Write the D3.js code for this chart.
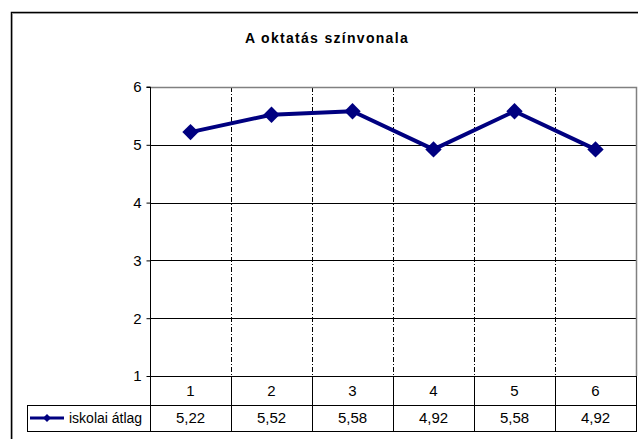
<!DOCTYPE html>
<html><head><meta charset="utf-8">
<script src="https://cdn.jsdelivr.net/npm/d3@7"></script>
<style>body{margin:0;background:#fff}svg{display:block;font-family:Arial,"Liberation Sans",sans-serif}</style>
</head><body><svg id="c" width="638" height="439"></svg>
<script>
const title = "A oktatás színvonala";
const categories = ["1","2","3","4","5","6"];
const seriesName = "iskolai átlag";
const values = [5.22, 5.52, 5.58, 4.92, 5.58, 4.92];
const valueLabels = ["5,22","5,52","5,58","4,92","5,58","4,92"];
const yTicks = [1,2,3,4,5,6];

const svg = d3.select("#c");
const L = 150, R = 636, T = 87, B = 376;
const x = d3.scaleBand().domain(categories).range([L, R]);
const y = d3.scaleLinear().domain([1, 6]).range([B, T]);
const FS = 15;

// outer frame
svg.append("path").attr("d", "M11.5,439 V12.5 H638").attr("fill","none").attr("stroke","#000").attr("stroke-width",1.5);
svg.append("path").attr("d", "M12.5,439 V13.5 H638").attr("fill","none").attr("stroke","#999").attr("stroke-width",1);

svg.append("text").attr("x", 327).attr("y", 43).attr("text-anchor","middle")
  .attr("font-size", 14).attr("font-weight","bold").attr("letter-spacing","1.3px").text(title);

// horizontal gridlines
svg.append("g").selectAll("line").data(yTicks.filter(d => d > 1 && d < 6)).join("line")
  .attr("x1", L).attr("x2", R).attr("y1", d => Math.round(y(d))+0.5).attr("y2", d => Math.round(y(d))+0.5)
  .attr("stroke","#000").attr("stroke-width",1);

// vertical dash-dot lines
svg.append("g").selectAll("line").data(categories.slice(1)).join("line")
  .attr("x1", d => Math.round(x(d))+0.5).attr("x2", d => Math.round(x(d))+0.5)
  .attr("y1", T).attr("y2", B)
  .attr("stroke","#000").attr("stroke-width",1).attr("stroke-dasharray","5,2,1,2");

// plot border top/right grey
svg.append("path").attr("d", `M${L},${T+0.5} H${R+0.5} V${B}`).attr("fill","none").attr("stroke","#808080").attr("stroke-width",1.5);

// y axis
const yAxis = d3.axisLeft(y).tickValues(yTicks).tickSize(4).tickPadding(5).tickFormat(d3.format("d"));
const ga = svg.append("g").attr("transform", `translate(${L+0.5},0)`).call(yAxis);
ga.select(".domain").attr("stroke","#000").attr("d", `M-4,${T}H0V${B}`);
ga.selectAll("text").attr("font-size", FS).attr("font-family","Arial,'Liberation Sans',sans-serif").attr("fill","#000");
ga.selectAll(".tick line").attr("stroke","#000");

// table
const rowH1 = 376, rowH2 = 405, rowEnd = 431;
const tb = svg.append("g").attr("stroke","#000").attr("stroke-width",1).attr("fill","none");
tb.append("line").attr("x1", L).attr("x2", R).attr("y1", rowH1+0.5).attr("y2", rowH1+0.5);
tb.append("line").attr("x1", 27).attr("x2", R).attr("y1", rowH2+0.5).attr("y2", rowH2+0.5);
tb.append("line").attr("x1", 27).attr("x2", R).attr("y1", rowEnd+0.5).attr("y2", rowEnd+0.5);
tb.append("line").attr("x1", 27.5).attr("x2", 27.5).attr("y1", rowH2).attr("y2", rowEnd+1);
tb.selectAll("line.v").data(categories).join("line").attr("class","v")
  .attr("x1", d => Math.round(x(d))+0.5).attr("x2", d => Math.round(x(d))+0.5)
  .attr("y1", rowH1).attr("y2", rowEnd+1);
tb.append("line").attr("x1", R+0.5).attr("x2", R+0.5).attr("y1", rowH1).attr("y2", rowEnd+1);

svg.append("g").selectAll("text").data(categories).join("text")
  .attr("x", d => x(d) + x.bandwidth()/2).attr("y", 396).attr("text-anchor","middle")
  .attr("font-size", FS).text(d => d);
svg.append("g").selectAll("text").data(valueLabels).join("text")
  .attr("x", (d,i) => x(categories[i]) + x.bandwidth()/2).attr("y", 423).attr("text-anchor","middle")
  .attr("font-size", FS).text(d => d);

// legend key
svg.append("line").attr("x1", 30).attr("x2", 64).attr("y1", 418).attr("y2", 418).attr("stroke","#000080").attr("stroke-width",3);
svg.append("path").attr("d", d3.symbol(d3.symbolDiamond2, 40)()).attr("transform","translate(47,418)").attr("fill","#000080");
svg.append("text").attr("x", 69).attr("y", 423).attr("font-size", 14).text(seriesName);

// series
const cx = (d,i) => x(categories[i]) + x.bandwidth()/2;
svg.append("path").datum(values)
  .attr("d", d3.line().x(cx).y(d => y(d)))
  .attr("fill","none").attr("stroke","#000080").attr("stroke-width",4).attr("stroke-linejoin","round");
svg.append("g").selectAll("path").data(values).join("path")
  .attr("d", d3.symbol(d3.symbolDiamond2, 170)())
  .attr("transform", (d,i) => `translate(${cx(d,i)},${y(d)})`).attr("fill","#000080");
</script></body></html>
